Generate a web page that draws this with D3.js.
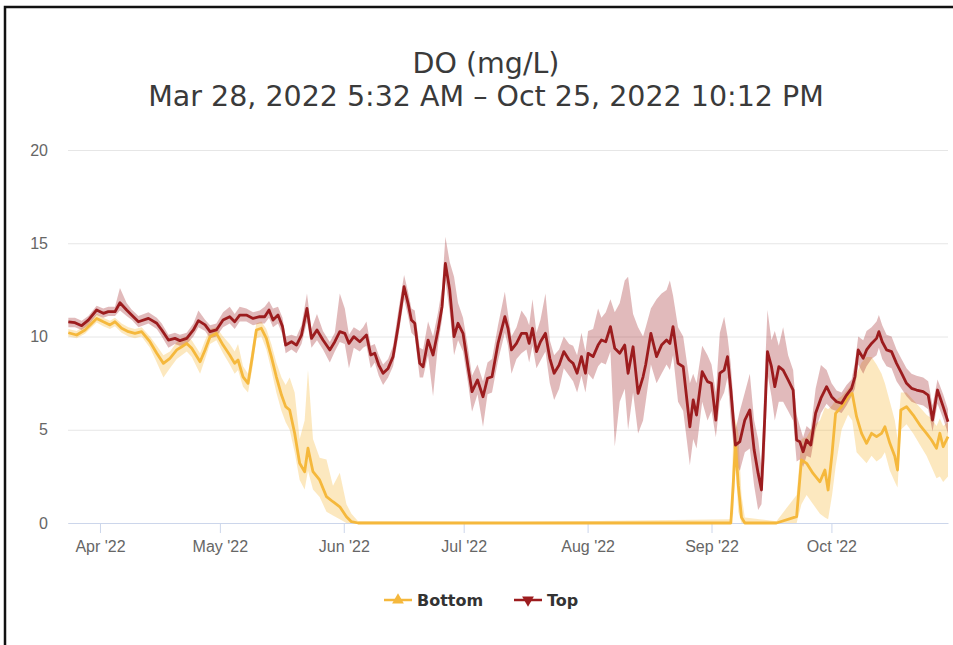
<!DOCTYPE html>
<html>
<head>
<meta charset="utf-8">
<script src="https://cdn.jsdelivr.net/npm/d3@7"></script>
<style>
  html, body { margin: 0; padding: 0; background: #fff; }
  svg { display: block; font-family: "DejaVu Sans", sans-serif; }
  .grid line { stroke: #e6e6e6; }
  .grid .domain { display: none; }
  .grid text { fill: #666; font-size: 16px; }
  .xAxis line, .xAxis .domain { stroke: #ccd6eb; }
  .xAxis text { fill: #666; font-size: 16px; }
</style>
</head>
<body>
<svg width="953" height="645"></svg>
<script>
// readings of the picture: date ("MM-DD HH", 2022), mean, band low, band high
const topDates = [
  "03-24 02","03-25 18","03-27 10","03-29 02","03-31 04","04-01 20","04-03 02","04-04 18","04-06 00","04-07 16",
  "04-08 22","04-10 15","04-13 03","04-15 05","04-16 11","04-18 03","04-19 18","04-21 00","04-22 17","04-24 09",
  "04-25 15","04-27 07","04-28 13","04-30 03","05-01 19","05-03 11","05-04 17","05-05 23","05-07 15","05-09 07",
  "05-10 23","05-12 05","05-13 07","05-14 07","05-15 13","05-16 16","05-17 11","05-18 22","05-20 04","05-21 10",
  "05-22 19","05-23 22","05-25 07","05-26 19","05-28 12","05-29 18","05-31 00","06-01 06","06-02 07","06-03 12",
  "06-05 00","06-05 20","06-06 16","06-07 18","06-08 18","06-09 18","06-10 20","06-12 02","06-13 08","06-14 14",
  "06-16 02","06-17 02","06-17 22","06-18 18","06-20 00","06-20 20","06-22 02","06-23 08","06-24 14","06-25 14",
  "06-26 10","06-27 12","06-28 14","06-29 14","06-30 20","07-02 02","07-03 02","07-04 11","07-05 20","07-06 23",
  "07-08 02","07-09 14","07-11 07","07-12 02","07-12 23","07-14 05","07-15 11","07-16 17","07-17 09","07-18 05",
  "07-19 05","07-20 05","07-21 11","07-22 13","07-23 15","07-24 21","07-26 01","07-27 09","07-28 09","07-29 09",
  "07-30 11","07-31 11","08-01 03","08-02 09","08-03 15","08-04 11","08-05 13","08-06 17","08-07 19","08-09 01",
  "08-10 07","08-11 03","08-12 09","08-13 15","08-14 21","08-15 13","08-16 20","08-18 06","08-19 12","08-20 18",
  "08-21 14","08-22 09","08-23 15","08-24 22","08-26 14","08-27 10","08-28 06","08-29 16","08-31 00","09-01 00",
  "09-02 02","09-03 02","09-04 04","09-05 00","09-05 20","09-07 00","09-08 02","09-09 08","09-10 14","09-11 16",
  "09-12 16","09-13 12","09-14 08","09-15 00","09-16 00","09-16 20","09-17 20","09-18 22","09-20 04","09-21 10",
  "09-22 07","09-23 02","09-23 22","09-24 19","09-25 20","09-27 01","09-28 09","09-29 19","10-01 01","10-02 07",
  "10-03 13","10-04 19","10-06 01","10-06 21","10-07 17","10-08 23","10-09 19","10-11 01","10-12 07","10-12 21",
  "10-13 17","10-14 19","10-16 01","10-17 07","10-18 13","10-19 19","10-21 01","10-22 07","10-23 23","10-25 05",
  "10-26 07","10-27 13","10-28 23","10-30 04"
];
const topMean = [
  10.79,10.74,10.58,10.88,11.42,11.24,11.33,11.33,11.81,11.42,
  11.15,10.79,10.97,10.71,10.35,9.81,9.90,9.78,9.90,10.35,
  10.85,10.62,10.26,10.35,10.88,11.06,10.79,11.15,11.15,10.97,
  11.06,11.06,11.42,10.88,11.15,10.53,9.54,9.72,9.54,10.08,
  11.51,9.90,10.35,9.81,9.28,9.72,10.26,10.17,9.63,9.99,
  9.72,9.90,10.08,9.01,9.10,8.47,8.03,8.29,8.92,10.53,
  12.67,11.78,10.88,10.71,8.56,8.38,9.81,9.01,10.35,11.60,
  13.92,12.49,9.99,10.71,10.17,8.38,7.04,7.67,6.77,7.76,
  7.84,9.63,11.06,10.44,9.28,9.63,10.17,10.17,9.63,10.44,
  9.19,9.72,10.17,8.83,8.03,8.47,9.19,8.74,8.56,8.03,
  8.92,8.03,9.10,8.92,9.54,9.81,9.72,10.53,9.37,9.10,
  9.54,8.03,9.45,6.95,7.84,8.50,10.17,8.92,9.54,9.81,
  9.63,10.53,8.56,8.38,5.16,6.60,5.79,8.11,7.58,7.49,
  5.52,8.03,8.20,8.92,7.13,4.18,4.36,5.52,6.06,3.91,
  2.66,1.77,5.70,9.19,8.38,7.31,8.38,8.20,7.67,7.13,
  4.45,4.36,3.82,4.45,4.18,5.88,6.69,7.31,6.77,6.50,
  6.42,6.86,7.22,7.84,9.28,8.83,9.28,9.63,9.90,10.26,
  9.72,9.28,9.19,8.56,8.03,7.49,7.22,7.13,7.04,6.86,
  5.52,7.13,6.24,5.43
];
const topLow = [
  10.5,10.5,10.35,10.6,11.15,11.0,11.1,11.1,11.4,11.1,
  10.9,10.5,10.7,10.4,10.0,9.4,9.6,9.5,9.6,10.0,
  10.5,10.3,9.9,10.0,10.5,10.7,10.4,10.8,10.8,10.6,
  10.7,10.7,11.0,10.5,10.7,10.1,9.1,9.3,9.1,9.6,
  10.8,9.4,9.8,9.3,8.6,9.2,9.7,9.6,8.3,9.4,
  9.2,9.4,9.5,8.3,8.6,7.9,7.4,7.8,8.4,9.9,
  12.0,11.1,10.2,10.0,7.8,7.8,9.0,6.8,9.6,10.9,
  13.0,11.3,9.0,9.8,9.2,7.5,5.97,6.9,5.16,6.9,
  7.0,8.7,10.2,9.5,8.0,8.8,9.1,9.3,8.6,9.5,
  8.3,8.7,9.2,7.5,6.6,7.2,8.3,7.9,7.6,7.0,
  7.9,7.0,8.0,7.7,8.4,8.6,8.5,9.2,4.1,6.5,
  7.2,5.0,7.0,4.8,5.5,6.5,8.5,7.5,8.0,8.5,
  8.2,9.0,6.5,6.0,3.1,4.5,4.0,6.5,5.5,6.0,
  4.6,6.5,7.0,7.8,5.5,3.2,2.8,3.8,4.0,2.0,
  0.7,1.0,3.5,8.0,6.8,5.5,6.5,6.5,6.0,5.5,
  3.3,3.4,3.0,3.6,3.5,5.0,5.9,6.4,6.1,6.0,
  5.9,6.3,6.8,7.2,8.5,8.0,8.4,8.8,9.0,9.4,
  8.8,8.4,8.3,7.6,7.2,6.8,6.5,6.4,6.3,6.1,
  4.9,6.4,5.6,4.8
];
const topHigh = [
  11.0,11.0,10.85,11.1,11.65,11.5,11.6,11.6,12.6,11.8,
  11.45,11.1,11.3,11.0,10.7,10.1,10.2,10.1,10.2,10.7,
  11.4,10.9,10.6,10.7,11.3,11.6,11.2,11.6,11.5,11.3,
  11.4,11.6,11.9,11.5,11.6,11.0,10.0,10.1,10.0,10.6,
  12.3,10.4,11.2,10.3,9.7,10.2,12.3,11.5,10.1,10.5,
  10.3,10.5,10.8,9.5,9.6,9.0,8.5,8.8,9.5,11.3,
  13.3,12.4,11.5,11.4,9.4,9.3,10.8,10.0,11.3,12.6,
  15.35,14.0,13.2,11.8,11.0,9.4,7.9,8.5,7.6,8.6,
  8.8,10.6,12.4,11.2,10.0,10.5,11.4,11.0,10.6,12.0,
  10.2,10.9,12.3,9.8,9.0,9.3,10.0,9.6,9.5,9.0,
  10.2,9.2,10.3,10.4,11.5,11.0,11.3,12.0,11.3,11.8,
  13.0,13.2,11.2,10.5,10.0,10.5,11.5,12.0,12.3,12.5,
  13.0,12.2,10.5,10.0,7.5,8.0,7.5,9.5,9.0,8.5,
  7.0,10.2,11.06,10.0,8.5,5.0,6.0,7.0,8.0,5.5,
  4.5,3.0,8.0,11.42,9.8,10.3,9.5,10.5,9.0,8.2,
  5.8,5.2,4.6,5.2,5.0,7.2,8.47,8.2,7.5,7.1,
  7.0,7.4,7.7,8.6,10.0,9.8,10.3,10.5,10.8,11.15,
  10.6,10.1,10.0,9.3,8.8,8.3,8.0,7.9,7.8,7.6,
  6.3,7.7,6.9,6.1
];

const bottomDates = [
  "03-24 02","03-26 04","03-28 06","03-31 04","04-01 20","04-03 12","04-04 18","04-06 10","04-08 03","04-09 18",
  "04-11 10","04-13 12","04-15 05","04-16 21","04-18 12","04-20 05","04-21 11","04-22 17","04-23 23","04-26 01",
  "04-27 07","04-28 13","04-30 03","05-01 19","05-03 11","05-04 17","05-05 13","05-06 19","05-08 01","05-09 03",
  "05-10 03","05-11 09","05-12 15","05-13 21","05-15 03","05-16 10","05-17 11","05-18 11","05-19 17","05-20 23",
  "05-22 05","05-23 01","05-24 07","05-25 23","05-27 16","05-29 07","05-31 00","06-01 16","06-02 22","06-04 14",
  "06-06 06","07-15 00","09-05 20","09-06 10","09-07 00","09-07 17","09-08 12","09-09 08","09-17 06","09-22 07",
  "09-23 12","09-24 19","09-26 10","09-28 03","09-29 09","09-30 04","10-01 04","10-02 01","10-03 13","10-05 04",
  "10-06 05","10-07 07","10-08 13","10-09 19","10-11 01","10-12 07","10-13 13","10-14 09","10-15 15","10-16 21",
  "10-17 13","10-18 09","10-19 19","10-21 11","10-23 03","10-24 19","10-26 01","10-27 07","10-28 03","10-28 23",
  "10-30 04"
];
const bottomMean = [
  10.20,10.08,10.35,10.97,10.79,10.62,10.79,10.44,10.26,10.17,
  10.26,9.72,9.10,8.56,8.83,9.28,9.45,9.63,9.37,8.65,
  9.28,9.99,10.17,9.54,9.01,8.56,8.74,7.84,7.49,8.92,
  10.35,10.44,9.90,8.92,7.84,6.86,6.24,6.06,4.81,3.20,
  2.75,4.01,2.75,2.31,1.41,1.14,0.87,0.34,0.07,0,
  0,0,0,2.0,4.3,2.0,0.3,0,0,0.34,
  3.38,3.20,2.66,2.21,2.84,1.77,3.74,5.88,6.24,6.77,
  6.95,5.70,4.81,4.27,4.81,4.63,4.81,5.16,4.27,3.56,
  2.84,6.06,6.24,5.79,5.25,4.81,4.45,4.01,4.81,4.09,
  4.63
];
const bottomLow = [
  10.0,9.9,10.15,10.75,10.55,10.4,10.55,10.2,10.0,9.9,
  10.0,9.4,8.6,7.8,8.3,8.8,9.0,9.2,8.9,8.0,
  8.8,9.6,9.8,9.1,8.5,8.0,8.2,7.3,7.0,8.3,
  9.9,10.0,9.3,8.2,7.0,6.0,5.4,5.0,3.8,2.3,
  1.8,2.8,1.8,1.4,0.6,0.4,0.2,0,0,0,
  0,0,0,0.5,3.0,0.6,0,0,0,0,
  1.0,1.5,1.0,0.5,0.3,0.2,1.5,3.0,5.0,5.8,
  5.5,3.8,3.5,3.2,3.6,3.3,3.5,3.8,2.8,2.2,
  1.9,5.0,5.3,4.8,4.2,3.6,3.0,2.4,2.5,2.2,
  2.5
];
const bottomHigh = [
  10.4,10.3,10.6,11.2,11.0,10.85,11.0,10.7,10.5,10.4,
  10.5,10.0,9.5,9.0,9.2,9.7,9.9,10.0,9.8,9.1,
  9.8,10.4,10.5,10.0,9.6,9.2,9.6,8.4,8.0,9.5,
  10.7,10.8,10.4,9.6,8.6,7.8,7.4,7.8,7.0,4.5,
  5.5,8.2,4.5,3.5,3.4,2.0,2.7,1.0,0.5,0.1,
  0.1,0.05,0.2,4.5,5.6,4.8,1.5,0.3,0.1,1.5,
  4.5,4.6,5.2,5.5,6.2,6.1,6.3,6.6,6.8,7.2,
  7.5,8.0,8.6,8.9,8.9,8.5,8.0,7.5,6.5,5.5,
  4.5,7.0,7.0,6.6,6.2,5.8,5.6,5.2,5.6,5.2,
  5.4
];

const yTicks = [0, 5, 10, 15, 20];
const chartTitle = "DO (mg/L)";
const chartSubtitle = "Mar 28, 2022 5:32 AM \u2013 Oct 25, 2022 10:12 PM";
const seriesNames = ["Bottom", "Top"];
const seriesColors = ["#f5b83c", "#9c1c1e"];

const svg = d3.select('svg');
const parseTime = d3.timeParse('%Y-%m-%d %H');

const makeRows = (dates, mean, low, high) =>
  dates.map((d, i) => ({ t: parseTime('2022-' + d), v: mean[i], lo: low[i], hi: high[i] }));

const topData = makeRows(topDates, topMean, topLow, topHigh);
const bottomData = makeRows(bottomDates, bottomMean, bottomLow, bottomHigh);

const plot = { left: 68, right: 948, top: 150, bottom: 523 };

const xScale = d3.scaleTime()
  .domain([new Date(2022, 2, 24, 0), new Date(2022, 9, 30, 4)])
  .range([plot.left, plot.right]);

const yScale = d3.scaleLinear()
  .domain([0, 20])
  .range([plot.bottom, plot.top]);

// frame around the screenshot
svg.append('rect')
  .attr('x', 5).attr('y', 7)
  .attr('width', 1000).attr('height', 700)
  .attr('fill', 'none')
  .attr('stroke', '#111')
  .attr('stroke-width', 2.5);

// titles
svg.append('text')
  .attr('x', 486).attr('y', 73)
  .attr('text-anchor', 'middle')
  .attr('fill', '#3a3a3a')
  .style('font-size', '28.5px')
  .text(chartTitle);

svg.append('text')
  .attr('x', 486).attr('y', 106)
  .attr('text-anchor', 'middle')
  .attr('fill', '#3a3a3a')
  .style('font-size', '28.5px')
  .text(chartSubtitle);

// y grid + labels
const yAxis = d3.axisLeft(yScale)
  .tickValues(yTicks)
  .tickSize(-(plot.right - plot.left))
  .tickPadding(20);

svg.append('g')
  .attr('class', 'grid')
  .attr('transform', `translate(${plot.left},0)`)
  .call(yAxis);

// x axis
const xAxis = d3.axisBottom(xScale)
  .tickValues(d3.timeMonth.range(new Date(2022, 3, 1), new Date(2022, 9, 2)))
  .tickFormat(d3.timeFormat("%b '%y"))
  .tickSize(10)
  .tickSizeOuter(0)
  .tickPadding(8);

svg.append('g')
  .attr('class', 'xAxis')
  .attr('transform', `translate(0,${plot.bottom})`)
  .call(xAxis);

// series
const band = d3.area()
  .x(d => xScale(d.t))
  .y0(d => yScale(d.lo))
  .y1(d => yScale(d.hi));

const line = d3.line()
  .x(d => xScale(d.t))
  .y(d => yScale(d.v));

const g = svg.append('g');

g.append('path')
  .datum(bottomData)
  .attr('d', band)
  .attr('fill', seriesColors[0])
  .attr('fill-opacity', 0.33);

g.append('path')
  .datum(topData)
  .attr('d', band)
  .attr('fill', seriesColors[1])
  .attr('fill-opacity', 0.3);

g.append('path')
  .datum(bottomData)
  .attr('d', line)
  .attr('fill', 'none')
  .attr('stroke', seriesColors[0])
  .attr('stroke-width', 2.8)
  .attr('stroke-linejoin', 'round');

g.append('path')
  .datum(topData)
  .attr('d', line)
  .attr('fill', 'none')
  .attr('stroke', seriesColors[1])
  .attr('stroke-width', 2.8)
  .attr('stroke-linejoin', 'round');

// legend
const legendItems = [
  { name: seriesNames[0], color: seriesColors[0], x: 384, symbol: d3.symbolTriangle, rot: 0 },
  { name: seriesNames[1], color: seriesColors[1], x: 514, symbol: d3.symbolTriangle, rot: 180 }
];

const legend = svg.append('g')
  .selectAll('g')
  .data(legendItems)
  .enter().append('g')
    .attr('transform', d => `translate(${d.x},600)`);

legend.append('line')
  .attr('x1', 0).attr('x2', 28)
  .attr('stroke', d => d.color)
  .attr('stroke-width', 2.5);

legend.append('path')
  .attr('d', d => d3.symbol().type(d.symbol).size(60)())
  .attr('transform', d => `translate(14,0) rotate(${d.rot})`)
  .attr('fill', d => d.color);

legend.append('text')
  .attr('x', 33)
  .attr('dy', '0.35em')
  .attr('fill', '#333')
  .style('font-size', '16px')
  .style('font-weight', 'bold')
  .text(d => d.name);
</script>
</body>
</html>
